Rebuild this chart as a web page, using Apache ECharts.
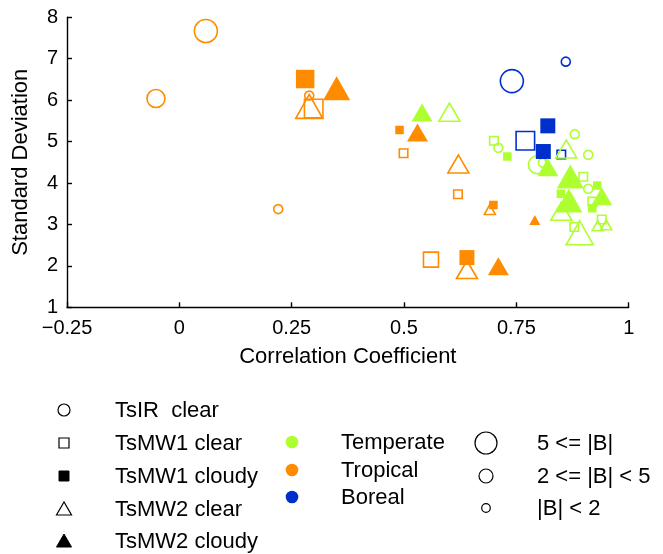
<!DOCTYPE html>
<html>
<head>
<meta charset="utf-8">
<script src="https://cdn.jsdelivr.net/npm/echarts@6/dist/echarts.min.js"></script>
<style>
  html, body { margin: 0; padding: 0; background: #fff; }
  #chart { width: 663px; height: 554px; }
</style>
</head>
<body>
<div id="chart"></div>
<script>
// Skill of surface temperature products: each point is
// [correlation coefficient, standard deviation, climate zone, bias class]
// bias class: 0 -> 5 <= |B|, 1 -> 2 <= |B| < 5, 2 -> |B| < 2
const productNames = ['TsIR  clear', 'TsMW1 clear', 'TsMW1 cloudy', 'TsMW2 clear', 'TsMW2 cloudy'];
const zoneNames = ['Temperate', 'Tropical', 'Boreal'];
const biasLabels = ['5 <= |B|', '2 <= |B| < 5', '|B| < 2'];
const xTicks = [-0.25, 0, 0.25, 0.5, 0.75, 1];
const yTicks = [1, 2, 3, 4, 5, 6, 7, 8];

const tsirClear = [
  [0.059, 7.67, 'Tropical', 0],
  [-0.052, 6.04, 'Tropical', 1],
  [0.220, 3.37, 'Tropical', 2],
  [0.289, 6.11, 'Tropical', 2],
  [0.740, 6.46, 'Boreal', 0],
  [0.860, 6.93, 'Boreal', 2],
  [0.710, 4.85, 'Temperate', 2],
  [0.797, 4.44, 'Temperate', 1],
  [0.809, 4.49, 'Temperate', 2],
  [0.880, 5.18, 'Temperate', 2],
  [0.910, 4.68, 'Temperate', 2],
  [0.910, 3.86, 'Temperate', 2]
];

const tsmw1Clear = [
  [0.299, 5.80, 'Tropical', 0],
  [0.499, 4.72, 'Tropical', 2],
  [0.620, 3.73, 'Tropical', 2],
  [0.560, 2.15, 'Tropical', 1],
  [0.770, 5.02, 'Boreal', 0],
  [0.850, 4.69, 'Boreal', 2],
  [0.700, 5.02, 'Temperate', 2],
  [0.899, 4.15, 'Temperate', 2],
  [0.919, 3.55, 'Temperate', 2],
  [0.879, 2.94, 'Temperate', 2],
  [0.940, 3.12, 'Temperate', 2]
];

const tsmw1Cloudy = [
  [0.280, 6.51, 'Tropical', 0],
  [0.490, 5.28, 'Tropical', 2],
  [0.699, 3.47, 'Tropical', 2],
  [0.640, 2.20, 'Tropical', 1],
  [0.820, 5.38, 'Boreal', 1],
  [0.810, 4.76, 'Boreal', 1],
  [0.730, 4.64, 'Temperate', 2],
  [0.849, 3.74, 'Temperate', 2],
  [0.930, 3.94, 'Temperate', 2],
  [0.919, 3.39, 'Temperate', 2]
];

const tsmw2Clear = [
  [0.289, 5.85, 'Tropical', 0],
  [0.621, 4.46, 'Tropical', 1],
  [0.691, 3.36, 'Tropical', 2],
  [0.640, 1.91, 'Tropical', 1],
  [0.601, 5.71, 'Temperate', 1],
  [0.861, 4.82, 'Temperate', 1],
  [0.850, 3.32, 'Temperate', 1],
  [0.891, 2.80, 'Temperate', 0],
  [0.931, 2.97, 'Temperate', 2],
  [0.950, 2.99, 'Temperate', 2]
];

const tsmw2Cloudy = [
  [0.350, 6.29, 'Tropical', 0],
  [0.530, 5.22, 'Tropical', 1],
  [0.710, 1.99, 'Tropical', 1],
  [0.791, 3.11, 'Tropical', 2],
  [0.540, 5.70, 'Temperate', 1],
  [0.820, 4.38, 'Temperate', 1],
  [0.870, 4.16, 'Temperate', 0],
  [0.867, 3.58, 'Temperate', 0],
  [0.940, 3.68, 'Temperate', 1]
];

// ---- styling ----
const FONT = '"Liberation Sans", Arial, Helvetica, sans-serif';
const zoneColors = { Temperate: '#adff2f', Tropical: '#ff8c00', Boreal: '#0030cc' };
const markerSizes = {
  circle: [23, 18, 9],
  rect: [18.5, 15, 8.5],
  triangle: [[27, 24], [21, 18], [11, 10]]
};

// one entry per product, in drawing order (open markers beneath filled ones)
const layers = [
  { name: productNames[0], points: tsirClear, symbol: 'circle', filled: false },
  { name: productNames[1], points: tsmw1Clear, symbol: 'rect', filled: false },
  { name: productNames[3], points: tsmw2Clear, symbol: 'triangle', filled: false },
  { name: productNames[2], points: tsmw1Cloudy, symbol: 'rect', filled: true },
  { name: productNames[4], points: tsmw2Cloudy, symbol: 'triangle', filled: true }
];

const series = layers.map((layer, i) => ({
  name: layer.name,
  type: 'scatter',
  symbol: layer.symbol,
  z: 2 + i,
  silent: true,
  data: layer.points.map(p => {
    const color = zoneColors[p[2]];
    return {
      value: [p[0], p[1]],
      symbolSize: markerSizes[layer.symbol][p[3]],
      itemStyle: layer.filled
        ? { color: color, borderWidth: 0, opacity: 1 }
        : { color: 'rgba(0,0,0,0)', borderColor: color, borderWidth: 1.6, opacity: 1 }
    };
  })
}));

// ---- legend drawn with graphic elements ----
const legendText = (x, y, text) => ({
  type: 'text', x: x, y: y,
  style: { text: text, font: '22px ' + FONT, fill: '#000', verticalAlign: 'middle', align: 'left' }
});
const graphic = [];
const prodRows = [410, 443, 476, 509, 541];
const prodSymbolX = 64;
const prodShapes = [
  { shape: 'circle', filled: false },
  { shape: 'rect', filled: false },
  { shape: 'rect', filled: true },
  { shape: 'triangle', filled: false },
  { shape: 'triangle', filled: true }
];
prodShapes.forEach((s, i) => {
  const cy = prodRows[i];
  const style = s.filled ? { fill: '#000', stroke: '#000', lineWidth: 1 }
                         : { fill: 'none', stroke: '#000', lineWidth: 1.2 };
  if (s.shape === 'circle') {
    graphic.push({ type: 'circle', shape: { cx: prodSymbolX, cy: cy, r: 6 }, style: style });
  } else if (s.shape === 'rect') {
    graphic.push({ type: 'rect', shape: { x: prodSymbolX - 5, y: cy - 5, width: 10, height: 10 }, style: style });
  } else {
    graphic.push({ type: 'polygon', shape: { points: [[prodSymbolX, cy - 7], [prodSymbolX - 7.5, cy + 6], [prodSymbolX + 7.5, cy + 6]] }, style: style });
  }
  graphic.push(legendText(115, cy + 1, productNames[i]));
});

const zoneRows = [442, 470, 497];
zoneNames.forEach((z, i) => {
  graphic.push({ type: 'circle', shape: { cx: 292, cy: zoneRows[i], r: 6.3 }, style: { fill: zoneColors[z], stroke: null } });
  graphic.push(legendText(341, zoneRows[i] + 1, z));
});

const biasRows = [443, 476, 508];
const biasRadii = [11, 7, 4.3];
biasLabels.forEach((b, i) => {
  graphic.push({ type: 'circle', shape: { cx: 486, cy: biasRows[i], r: biasRadii[i] }, style: { fill: 'none', stroke: '#000', lineWidth: 1.2 } });
  graphic.push(legendText(537, biasRows[i] + 1, b));
});

const axisCommon = {
  type: 'value',
  nameLocation: 'middle',
  nameTextStyle: { fontFamily: FONT, fontSize: 22, color: '#000' },
  axisLine: { show: true, onZero: false, lineStyle: { color: '#000', width: 1.4 } },
  axisTick: { show: true, inside: true, length: 5, lineStyle: { color: '#000', width: 1.4 } },
  axisLabel: { fontFamily: FONT, fontSize: 20, color: '#000' },
  splitLine: { show: false }
};

const chart = echarts.init(document.getElementById('chart'), null, { renderer: 'canvas' });
chart.setOption({
  animation: false,
  backgroundColor: '#fff',
  grid: { left: 67, right: 34.3, top: 17.3, bottom: 246.7 },
  xAxis: Object.assign({}, axisCommon, {
    name: 'Correlation Coefficient',
    nameGap: 39,
    min: xTicks[0], max: xTicks[xTicks.length - 1], interval: 0.25,
    axisLabel: Object.assign({}, axisCommon.axisLabel, {
      margin: 11,
      formatter: v => String(v).replace('-', '\u2212')
    })
  }),
  yAxis: Object.assign({}, axisCommon, {
    name: 'Standard Deviation',
    nameGap: 35,
    min: yTicks[0], max: yTicks[yTicks.length - 1], interval: 1,
    axisLabel: Object.assign({}, axisCommon.axisLabel, { margin: 9 })
  }),
  series: series,
  graphic: graphic
});
</script>
</body>
</html>
